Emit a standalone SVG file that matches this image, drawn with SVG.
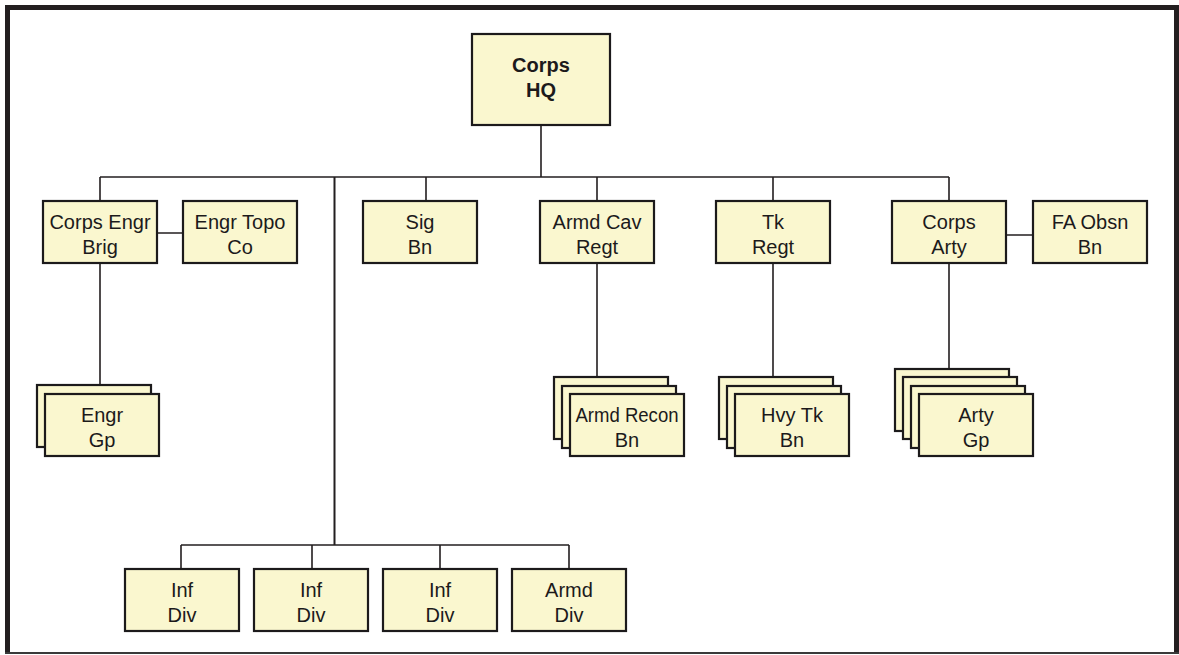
<svg xmlns="http://www.w3.org/2000/svg" width="1179" height="655" viewBox="0 0 1179 655">
<style>
.box{fill:#faf7cf;stroke:#1c1a1b;stroke-width:2.2}
.t{font-family:"Liberation Sans",Arial,sans-serif;font-size:20px;fill:#1c1a1b;text-anchor:middle}
.b{font-weight:bold}
.c{stroke:#231f20;stroke-width:1.6;fill:none}
</style>
<rect x="0" y="0" width="1179" height="655" fill="#ffffff"/>
<g id="frame">
<rect x="5" y="5" width="1174" height="5" fill="#231f20"/>
<rect x="5" y="5" width="5" height="649" fill="#231f20"/>
<rect x="1174" y="5" width="5" height="649" fill="#231f20"/>
<rect x="5" y="652" width="1174" height="2" fill="#3a3a3a"/>
</g>
<g id="connectors">
<path class="c" d="M541 125V177M100 177H949M100 177V201M426 177V201M597 177V201M773 177V201M949 177V201"/>
<path class="c" d="M334.5 177V545" style="stroke-width:2"/>
<path class="c" d="M157 233H183M1006 235H1033"/>
<path class="c" d="M100 263V385M597 263V377M773 263V377M949 263V369"/>
<path class="c" d="M181 545H569M181 545V569M312 545V569M440 545V569M569 545V569"/>
</g>
<g id="corps-hq">
<rect class="box" x="472" y="34" width="138" height="91"/>
<text class="t b" x="541" y="72">Corps</text>
<text class="t b" x="541" y="97">HQ</text>
</g>
<g id="corps-engr-brig">
<rect class="box" x="43" y="201" width="114" height="62"/>
<text class="t" x="100" y="229">Corps Engr</text>
<text class="t" x="100" y="254">Brig</text>
</g>
<g id="engr-topo-co">
<rect class="box" x="183" y="201" width="114" height="62"/>
<text class="t" x="240" y="229">Engr Topo</text>
<text class="t" x="240" y="254">Co</text>
</g>
<g id="sig-bn">
<rect class="box" x="363" y="201" width="114" height="62"/>
<text class="t" x="420" y="229">Sig</text>
<text class="t" x="420" y="254">Bn</text>
</g>
<g id="armd-cav-regt">
<rect class="box" x="540" y="201" width="114" height="62"/>
<text class="t" x="597" y="229">Armd Cav</text>
<text class="t" x="597" y="254">Regt</text>
</g>
<g id="tk-regt">
<rect class="box" x="716" y="201" width="114" height="62"/>
<text class="t" x="773" y="229">Tk</text>
<text class="t" x="773" y="254">Regt</text>
</g>
<g id="corps-arty">
<rect class="box" x="892" y="201" width="114" height="62"/>
<text class="t" x="949" y="229">Corps</text>
<text class="t" x="949" y="254">Arty</text>
</g>
<g id="fa-obsn-bn">
<rect class="box" x="1033" y="201" width="114" height="62"/>
<text class="t" x="1090" y="229">FA Obsn</text>
<text class="t" x="1090" y="254">Bn</text>
</g>
<g id="engr-gp">
<rect class="box" x="37" y="385" width="114" height="62"/>
<rect class="box" x="45" y="394" width="114" height="62"/>
<text class="t" x="102" y="422">Engr</text>
<text class="t" x="102" y="447">Gp</text>
</g>
<g id="armd-recon-bn">
<rect class="box" x="554" y="377" width="114" height="62"/>
<rect class="box" x="562" y="386" width="114" height="62"/>
<rect class="box" x="570" y="394" width="114" height="62"/>
<text class="t" x="627" y="422" textLength="103" lengthAdjust="spacingAndGlyphs">Armd Recon</text>
<text class="t" x="627" y="447">Bn</text>
</g>
<g id="hvy-tk-bn">
<rect class="box" x="719" y="377" width="114" height="62"/>
<rect class="box" x="727" y="386" width="114" height="62"/>
<rect class="box" x="735" y="394" width="114" height="62"/>
<text class="t" x="792" y="422">Hvy Tk</text>
<text class="t" x="792" y="447">Bn</text>
</g>
<g id="arty-gp">
<rect class="box" x="895" y="369" width="114" height="62"/>
<rect class="box" x="903" y="377" width="114" height="62"/>
<rect class="box" x="911" y="386" width="114" height="62"/>
<rect class="box" x="919" y="394" width="114" height="62"/>
<text class="t" x="976" y="422">Arty</text>
<text class="t" x="976" y="447">Gp</text>
</g>
<g id="inf-div-1">
<rect class="box" x="125" y="569" width="114" height="62"/>
<text class="t" x="182" y="597">Inf</text>
<text class="t" x="182" y="622">Div</text>
</g>
<g id="inf-div-2">
<rect class="box" x="254" y="569" width="114" height="62"/>
<text class="t" x="311" y="597">Inf</text>
<text class="t" x="311" y="622">Div</text>
</g>
<g id="inf-div-3">
<rect class="box" x="383" y="569" width="114" height="62"/>
<text class="t" x="440" y="597">Inf</text>
<text class="t" x="440" y="622">Div</text>
</g>
<g id="armd-div">
<rect class="box" x="512" y="569" width="114" height="62"/>
<text class="t" x="569" y="597">Armd</text>
<text class="t" x="569" y="622">Div</text>
</g>
</svg>
